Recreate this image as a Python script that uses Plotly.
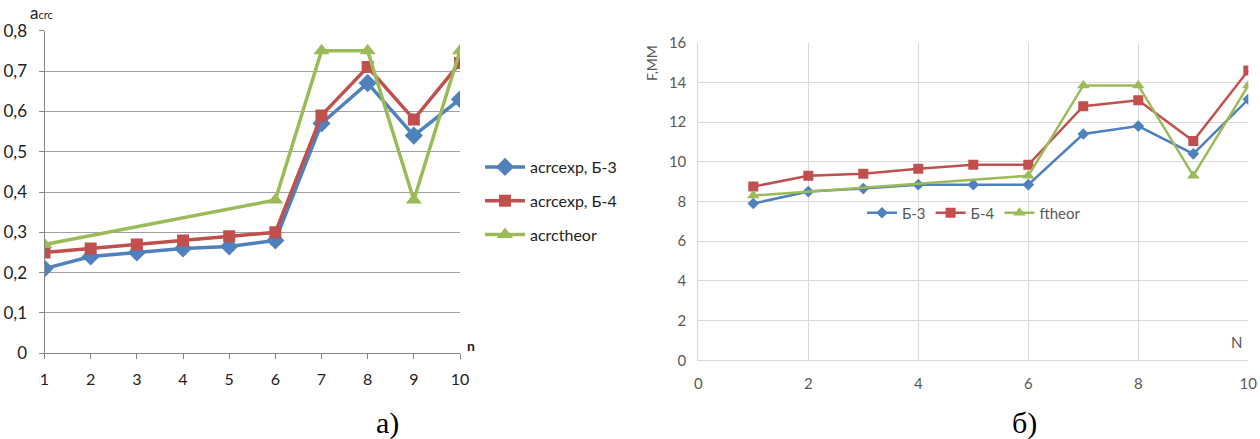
import plotly.graph_objects as go

# ---- data: chart a) ----
n_vals = [1, 2, 3, 4, 5, 6, 7, 8, 9, 10]
a_b3 = [0.21, 0.24, 0.25, 0.26, 0.265, 0.28, 0.57, 0.67, 0.54, 0.63]
a_b4 = [0.25, 0.26, 0.27, 0.28, 0.29, 0.30, 0.59, 0.71, 0.58, 0.72]
a_theor = [0.27, None, None, None, None, 0.38, 0.75, 0.75, 0.38, 0.75]
a_names = ["acrcexp, Б-3", "acrcexp, Б-4", "acrctheor"]
a_yticks = [0, 0.1, 0.2, 0.3, 0.4, 0.5, 0.6, 0.7, 0.8]
a_yticktext = ["0", "0,1", "0,2", "0,3", "0,4", "0,5", "0,6", "0,7", "0,8"]

# ---- data: chart б) ----
f_b3 = [7.9, 8.5, 8.65, 8.85, 8.85, 8.85, 11.4, 11.8, 10.4, 13.15]
f_b4 = [8.75, 9.3, 9.4, 9.65, 9.85, 9.85, 12.8, 13.1, 11.05, 14.6]
f_theor = [8.3, None, None, None, None, 9.3, 13.85, 13.85, 9.3, 13.85]
f_names = ["Б-3", "Б-4", "ftheor"]
f_yticks = [0, 2, 4, 6, 8, 10, 12, 14, 16]
f_xticks = [0, 2, 4, 6, 8, 10]

BLUE = "#4F81BD"
RED = "#C0504D"
GREEN = "#9BBB59"
FONT = "Lato"

W, H = 1260, 439
def px_x(p):
    return p / W
def px_y(p):
    return (H - p) / H

fig = go.Figure()

# chart a)
for ys, nm, col, sym, sz in [
    (a_b3, a_names[0], BLUE, "diamond", 14),
    (a_b4, a_names[1], RED, "square", 12),
    (a_theor, a_names[2], GREEN, "triangle-up", 14),
]:
    fig.add_trace(go.Scatter(
        x=n_vals, y=ys, name=nm, mode="lines+markers", connectgaps=True,
        line=dict(color=col, width=3.5),
        marker=dict(symbol=sym, size=sz, color=col),
        xaxis="x", yaxis="y", legend="legend", legendgroup=nm,
    ))

# chart б)
for ys, nm, col, sym, sz in [
    (f_b3, f_names[0], BLUE, "diamond", 9),
    (f_b4, f_names[1], RED, "square", 10),
    (f_theor, f_names[2], GREEN, "triangle-up", 11),
]:
    fig.add_trace(go.Scatter(
        x=n_vals, y=ys, name=nm, mode="lines+markers", connectgaps=True,
        line=dict(color=col, width=2.5),
        marker=dict(symbol=sym, size=sz, color=col),
        xaxis="x2", yaxis="y2", legend="legend2",
    ))

fig.update_layout(
    width=W, height=H,
    margin=dict(l=0, r=0, t=0, b=0, autoexpand=False),
    paper_bgcolor="white", plot_bgcolor="white",
    font=dict(family=FONT, color="#222222"),
    xaxis=dict(
        domain=[px_x(44.5), px_x(460)], anchor="y", automargin=False,
        range=[1, 10], tickvals=n_vals, ticktext=[str(v) for v in n_vals],
        showgrid=False, zeroline=False,
        showline=True, linecolor="#868686", linewidth=1,
        ticks="outside", ticklen=5, tickcolor="#868686", ticklabelstandoff=6,
        tickfont=dict(size=16, color="#222222", family=FONT),
    ),
    yaxis=dict(
        domain=[px_y(353.3), px_y(30.7)], anchor="x", automargin=False,
        range=[0, 0.8], tickvals=a_yticks, ticktext=a_yticktext,
        showgrid=True, gridcolor="#a0a0a0", gridwidth=1, zeroline=False,
        showline=True, linecolor="#868686", linewidth=1,
        ticks="outside", ticklen=5, tickcolor="#868686", ticklabelstandoff=8,
        tickfont=dict(size=17, color="#222222", family=FONT),
    ),
    xaxis2=dict(
        domain=[px_x(698.3), px_x(1248.3)], anchor="y2", automargin=False,
        range=[0, 10], tickvals=f_xticks, ticktext=[str(v) for v in f_xticks],
        showgrid=True, gridcolor="#d9d9d9", gridwidth=1, zeroline=False,
        showline=True, linecolor="#d9d9d9", linewidth=1, ticks="", ticklabelstandoff=10,
        tickfont=dict(size=15, color="#595959", family=FONT),
    ),
    yaxis2=dict(
        domain=[px_y(360.3), px_y(42.7)], anchor="x2", automargin=False,
        range=[0, 16], tickvals=f_yticks, ticktext=[str(v) for v in f_yticks],
        showgrid=True, gridcolor="#d9d9d9", gridwidth=1, zeroline=False,
        showline=True, linecolor="#d9d9d9", linewidth=1, ticks="", ticklabelstandoff=8,
        tickfont=dict(size=15, color="#595959", family=FONT),
    ),
    legend=dict(
        x=px_x(480), y=px_y(150), xanchor="left", yanchor="top",
        orientation="v", tracegroupgap=10, itemwidth=40,
        font=dict(size=16, color="#222222", family=FONT),
        bgcolor="rgba(0,0,0,0)",
    ),
    legend2=dict(
        x=px_x(862), y=px_y(213), xanchor="left", yanchor="middle",
        orientation="h", itemwidth=30,
        font=dict(size=15, color="#595959", family=FONT),
        bgcolor="rgba(0,0,0,0)",
    ),
    showlegend=True,
)

fig.add_annotation(text="a<span style='font-size:11px'>crc</span>", x=px_x(28), y=px_y(13),
                   xref="paper", yref="paper", xanchor="left", yanchor="middle",
                   showarrow=False, font=dict(size=17, color="#222222", family=FONT))
fig.add_annotation(text="<b>n</b>", x=px_x(471), y=px_y(345),
                   xref="paper", yref="paper", xanchor="center", yanchor="middle",
                   showarrow=False, font=dict(size=14, color="#222222", family=FONT))
fig.add_annotation(text="F,MM", x=px_x(652), y=px_y(63), textangle=-90,
                   xref="paper", yref="paper", xanchor="center", yanchor="middle",
                   showarrow=False, font=dict(size=14, color="#595959", family=FONT))
fig.add_annotation(text="N", x=px_x(1236), y=px_y(342),
                   xref="paper", yref="paper", xanchor="center", yanchor="middle",
                   showarrow=False, font=dict(size=15, color="#595959", family=FONT))
fig.add_annotation(text="а)", x=px_x(387), y=px_y(423),
                   xref="paper", yref="paper", xanchor="center", yanchor="middle",
                   showarrow=False, font=dict(size=30, color="#000000", family="Liberation Serif"))
fig.add_annotation(text="б)", x=px_x(1024), y=px_y(423),
                   xref="paper", yref="paper", xanchor="center", yanchor="middle",
                   showarrow=False, font=dict(size=30, color="#000000", family="Liberation Serif"))

fig.write_html("out.html", config={"displayModeBar": False})

# remove default page margins so the figure sits exactly in the window
with open("out.html", "r", encoding="utf-8") as fh:
    html = fh.read()
html = html.replace("<head>", "<head><style>html,body{margin:0;padding:0;overflow:hidden;}</style>", 1)
with open("out.html", "w", encoding="utf-8") as fh:
    fh.write(html)
